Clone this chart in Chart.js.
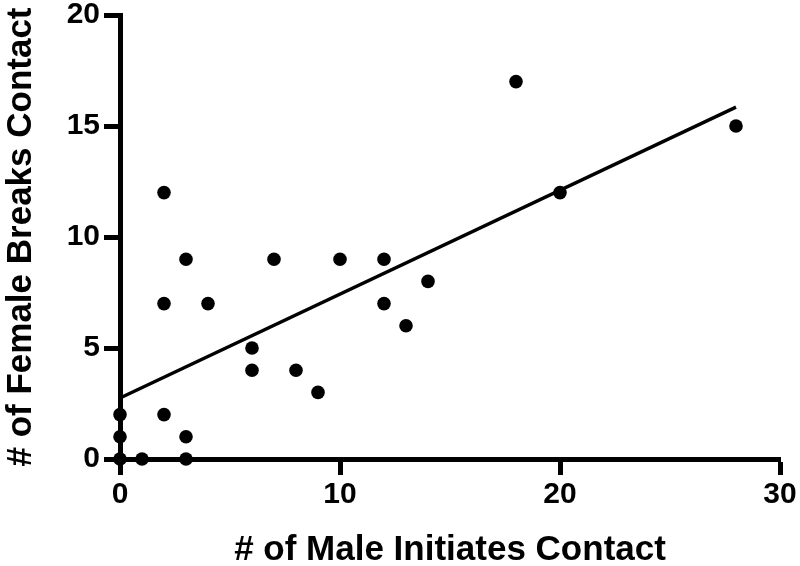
<!DOCTYPE html>
<html>
<head>
<meta charset="utf-8">
<script src="https://cdn.jsdelivr.net/npm/chart.js@4/dist/chart.umd.min.js"></script>
<style>
html,body{margin:0;padding:0;background:#fff;}
#wrap{width:800px;height:566px;}
</style>
</head>
<body>
<div id="wrap"><canvas id="c" width="800" height="566"></canvas></div>
<script>
const maleInitiates = [0,0,0,1,2,2,2,3,3,3,4,6,6,7,8,9,10,12,12,13,14,18,20,28];
const femaleBreaks  = [2,1,0,0,12,7,2,9,1,0,7,5,4,9,4,3,9,9,7,6,8,17,12,15];
const fitX = [0, 28];
const fitY = [2.75, 15.85];
const xTicks = [0,10,20,30];
const yTicks = [0,5,10,15,20];

const pts = maleInitiates.map((x,i)=>({x:x,y:femaleBreaks[i]}));
const fit = fitX.map((x,i)=>({x:x,y:fitY[i]}));
const FONT = "'Liberation Sans', Arial, sans-serif";

new Chart(document.getElementById('c'), {
  type: 'scatter',
  data: {
    datasets: [
      {
        type: 'line',
        data: fit,
        borderColor: '#000',
        borderWidth: 3.4,
        pointRadius: 0,
        fill: false,
        clip: false,
        order: 2
      },
      {
        data: pts,
        backgroundColor: '#000',
        borderColor: '#000',
        pointRadius: 6.8,
        pointHoverRadius: 6.8,
        borderWidth: 0,
        clip: false,
        order: 1
      }
    ]
  },
  options: {
    responsive: false,
    animation: false,
    events: [],
    layout: { padding: { top: 15, right: 20, left: 0, bottom: 0 } },
    plugins: { legend: { display: false }, tooltip: { enabled: false } },
    scales: {
      x: {
        type: 'linear',
        min: 0, max: 30,
        afterBuildTicks: (axis) => { axis.ticks = xTicks.map(v=>({value:v})); },
        afterFit: (axis) => { axis.height = 107; axis.paddingLeft = 0; axis.paddingRight = 0; },
        border: { display: true, color: '#000', width: 5 },
        grid: { drawOnChartArea: false, drawTicks: true, tickLength: 16, tickWidth: 5, tickColor: '#000' },
        ticks: { color: '#000', font: { family: FONT, size: 30, weight: 'bold' }, padding: 2, maxRotation: 0 },
        title: { display: true, text: '# of Male Initiates Contact', color: '#000',
                 font: { family: FONT, size: 35, weight: 'bold', lineHeight: 0.9 }, padding: { top: 10, bottom: 0 } }
      },
      y: {
        type: 'linear',
        min: 0, max: 20,
        afterBuildTicks: (axis) => { axis.ticks = yTicks.map(v=>({value:v})); },
        afterFit: (axis) => { axis.width = 120; axis.paddingTop = 0; axis.paddingBottom = 0; },
        border: { display: true, color: '#000', width: 5 },
        grid: { drawOnChartArea: false, drawTicks: true, tickLength: 16, tickWidth: 5, tickColor: '#000' },
        ticks: { color: '#000', font: { family: FONT, size: 30, weight: 'bold' }, padding: 4 },
        title: { display: true, text: '# of Female Breaks Contact', color: '#000',
                 font: { family: FONT, size: 35, weight: 'bold', lineHeight: 1.2 }, padding: { top: 0, bottom: 0 } }
      }
    }
  }
});
</script>
</body>
</html>
